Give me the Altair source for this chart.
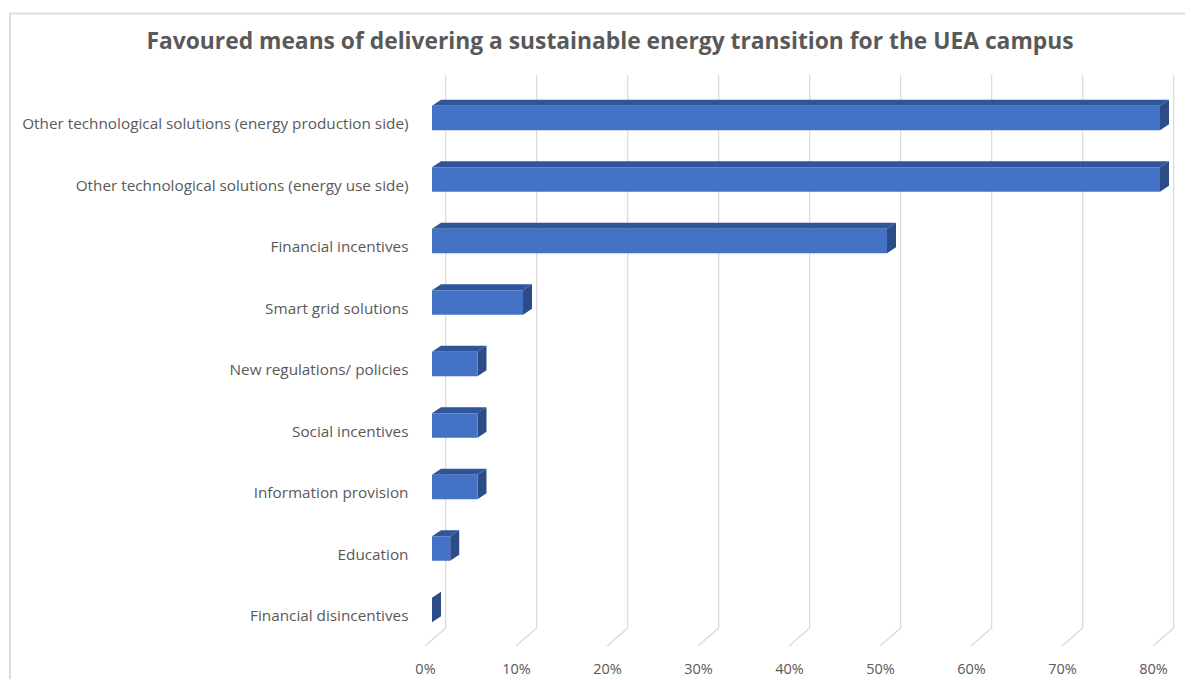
import altair as alt
import pandas as pd

# ---------------- data ----------------
categories = [
    "Other technological solutions (energy production side)",
    "Other technological solutions (energy use side)\u00a0",
    "Financial incentives",
    "Smart grid solutions\u00a0",
    "New regulations/ policies",
    "Social incentives",
    "Information provision",
    "Education",
    "Financial disincentives",
]
values = [0.80, 0.80, 0.50, 0.10, 0.05, 0.05, 0.05, 0.02, 0.00]
x_ticks = [0.0, 0.1, 0.2, 0.3, 0.4, 0.5, 0.6, 0.7, 0.8]
title_text = "Favoured means of delivering a sustainable energy transition for the UEA campus"

# ---------------- layout / style ----------------
PLOT_W = 728
PLOT_H = 553.5
PLOT_LEFT, PLOT_TOP = 432, 87.25      # page position of the plot area
X_MAX = 0.8
N = len(categories)
PX_X = PLOT_W / X_MAX          # pixels per unit of x
PX_Y = PLOT_H / N              # pixels per row
FACE_H = 24.5                  # bar front face height in px
DEPTH_X, DEPTH_Y = 9, 6        # 3-D bar depth in px
HH = FACE_H / 2 / PX_Y
DX = DEPTH_X / PX_X
DY = DEPTH_Y / PX_Y

FRONT = "#4472C4"
TOP = "#30569A"
SIDE = "#2B4C87"
GRID = "#D9D9D9"
TXT = "#595959"
FONT = "Open Sans"

rows = list(range(N))
bars = pd.DataFrame({"cat": categories, "row": rows, "v": values})
bars["y0"] = bars["row"] - HH
bars["y1"] = bars["row"] + HH
bars["x0"] = 0.0

top_df = pd.concat([
    pd.DataFrame({"cat": categories, "yy": bars["y0"], "xa": 0.0, "xb": bars["v"]}),
    pd.DataFrame({"cat": categories, "yy": bars["y0"] - DY, "xa": DX, "xb": bars["v"] + DX}),
])
side_df = pd.concat([
    pd.DataFrame({"cat": categories, "xx": bars["v"], "ya": bars["y0"], "yb": bars["y1"]}),
    pd.DataFrame({"cat": categories, "xx": bars["v"] + DX, "ya": bars["y0"] - DY, "yb": bars["y1"] - DY}),
])
grid_df = pd.DataFrame({"t": x_ticks})

xs = alt.Scale(domain=[0, X_MAX], zero=False, nice=False)
ys = alt.Scale(domain=[-0.5, N - 0.5], reverse=True, zero=False, nice=False)

label_expr = "[" + ",".join("'" + c + "'" for c in categories) + "][datum.value]"

BACK_DX = 13.7
FRONT_DX = -7

AX_X = alt.Axis(
    values=x_ticks, format=".0%", title=None, grid=False, domain=False, ticks=False,
    labelOffset=FRONT_DX, labelPadding=22, labelFont=FONT, labelFontSize=14.5,
    labelColor=TXT, labelFlush=False)
AX_Y = alt.Axis(
    values=rows, labelExpr=label_expr, title=None, grid=False, domain=False, ticks=False,
    labelOffset=5.5, labelPadding=24, labelFont=FONT, labelFontSize=15.3,
    labelColor=TXT, labelLimit=600, labelFlush=False)

# back wall vertical grid lines and floor diagonals (pixel positions inside plot)
WALL_TOP = 75 - PLOT_TOP
WALL_BOT = 628 - PLOT_TOP
FLOOR_FRONT = 646 - PLOT_TOP

border = alt.Chart(pd.DataFrame({"k": [0]})).mark_rect(
    fill="transparent", stroke="#DDDDDD", strokeWidth=2
).encode(
    x=alt.value(10 - PLOT_LEFT),
    x2=alt.value(1400),
    y=alt.value(13.5 - PLOT_TOP),
    y2=alt.value(900),
)

title = alt.Chart(pd.DataFrame({"title": [title_text]})).mark_text(
    font=FONT, fontSize=22.8, fontWeight="bold", color=TXT, align="center", baseline="middle"
).encode(
    text="title:N",
    x=alt.value(610 - PLOT_LEFT),
    y=alt.value(42 - PLOT_TOP),
)

grid_v = alt.Chart(grid_df).mark_rule(color=GRID, strokeWidth=1.2, xOffset=BACK_DX).encode(
    x=alt.X("t:Q", scale=xs, axis=AX_X),
    y=alt.value(WALL_TOP),
    y2=alt.value(WALL_BOT),
)
grid_d = alt.Chart(grid_df).mark_rule(color=GRID, strokeWidth=1.2, xOffset=BACK_DX, x2Offset=FRONT_DX).encode(
    x=alt.X("t:Q", scale=xs, axis=AX_X),
    x2="t:Q",
    y=alt.value(WALL_BOT),
    y2=alt.value(FLOOR_FRONT),
)

top_face = alt.Chart(top_df).mark_area(orient="horizontal", color=TOP).encode(
    y=alt.Y("yy:Q", scale=ys, axis=AX_Y),
    x=alt.X("xa:Q", scale=xs, axis=AX_X),
    x2="xb:Q",
    detail="cat:N",
)
side_face = alt.Chart(side_df).mark_area(orient="vertical", color=SIDE).encode(
    x=alt.X("xx:Q", scale=xs, axis=AX_X),
    y=alt.Y("ya:Q", scale=ys, axis=AX_Y),
    y2="yb:Q",
    detail="cat:N",
)
front_face = alt.Chart(bars).mark_rect(color=FRONT).encode(
    x=alt.X("v:Q", scale=xs, axis=AX_X),
    x2="x0:Q",
    y=alt.Y("y0:Q", scale=ys, axis=AX_Y),
    y2="y1:Q",
)

chart = alt.layer(grid_v, grid_d, top_face, side_face, front_face, border, title).properties(
    width=PLOT_W,
    height=PLOT_H,
    autosize=alt.AutoSizeParams(type="none"),
    padding={"left": PLOT_LEFT - 8, "top": PLOT_TOP - 8, "right": 25, "bottom": 38},
).configure(background="white").configure_view(stroke=None)

chart.save("out.html", embed_options={"renderer": "svg", "actions": False})
